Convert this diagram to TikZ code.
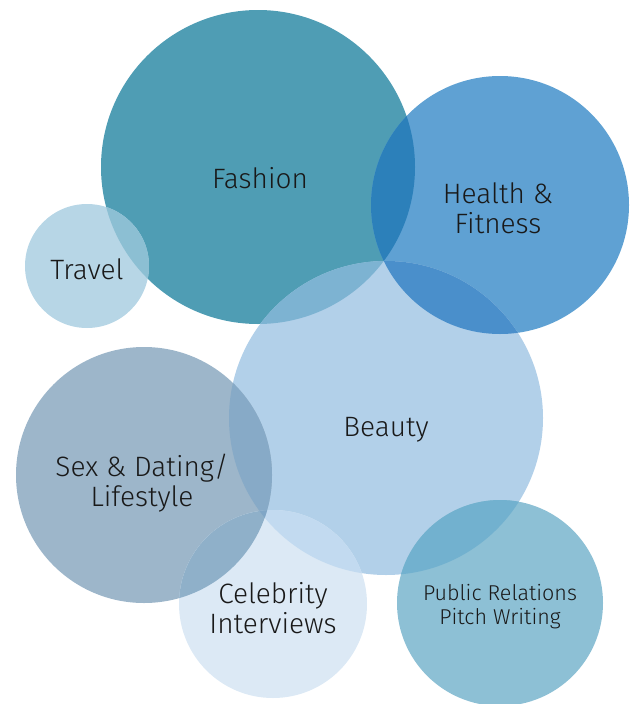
\documentclass[tikz,border=0pt]{standalone}
\usepackage{fontspec}
\setmainfont{Fira Sans}[UprightFont=* Light]
\begin{document}
\begin{tikzpicture}[x=1pt,y=-1pt,
  lbl/.style={text=black!90,align=center,font=\fontsize{28}{30}\selectfont,inner sep=0pt},
  lblsmall/.style={text=black!90,align=center,font=\fontsize{21.5}{24}\selectfont,inner sep=0pt}]
\useasboundingbox (0,0) rectangle (634,704);
\definecolor{cF}{HTML}{4F9DB4}
\definecolor{cH}{HTML}{5FA1D3}
\definecolor{cFH}{HTML}{2C80BA}
\definecolor{cT}{HTML}{B7D6E6}
\definecolor{cTF}{HTML}{8CBFD3}
\definecolor{cB}{HTML}{B2D0E9}
\definecolor{cBF}{HTML}{7DB3D2}
\definecolor{cBH}{HTML}{4A8FCB}
\definecolor{cS}{HTML}{9DB6CA}
\definecolor{cSB}{HTML}{87AAC7}
\definecolor{cC}{HTML}{DCE9F5}
\definecolor{cCS}{HTML}{8FB0C9}
\definecolor{cCB}{HTML}{C2DAF0}
\definecolor{cCSB}{HTML}{80A6C6}
\definecolor{cP}{HTML}{8DC0D5}
\definecolor{cPB}{HTML}{72B1CF}
\coordinate (F) at (258,167);
\coordinate (H) at (500,205);
\coordinate (T) at (87,266);
\coordinate (B) at (386,418);
\coordinate (S) at (144,475);
\coordinate (C) at (273,604);
\coordinate (P) at (500,603);
% base circles
\fill[cF] (F) circle (157);
\fill[cH] (H) circle (129);
\fill[cT] (T) circle (62);
\fill[cB] (B) circle (157);
\fill[cS] (S) circle (128);
\fill[cC] (C) circle (94);
\fill[cP] (P) circle (103);
% overlaps
\begin{scope}\clip (F) circle (157); \fill[cFH] (H) circle (129); \end{scope}
\begin{scope}\clip (F) circle (157); \fill[cTF] (T) circle (62); \end{scope}
\begin{scope}\clip (F) circle (157); \fill[cBF] (B) circle (157); \end{scope}
\begin{scope}\clip (H) circle (129); \fill[cBH] (B) circle (157); \end{scope}
\begin{scope}\clip (S) circle (128); \fill[cSB] (B) circle (157); \end{scope}
\begin{scope}\clip (C) circle (94); \fill[cCB] (B) circle (157); \end{scope}
\begin{scope}\clip (C) circle (94); \fill[cCS] (S) circle (128); \end{scope}
\begin{scope}\clip (C) circle (94); \clip (S) circle (128); \fill[cCSB] (B) circle (157); \end{scope}
\begin{scope}\clip (P) circle (103); \fill[cPB] (B) circle (157); \end{scope}
% labels
\node[lbl] (tF) at (260,178) {Fashion};
\node[lbl] (tH) at (498,208) {Health \&\\Fitness};
\node[lbl] (tT) at (87,269) {Travel};
\node[lbl] (tB) at (386,430) {Beauty};
\node[lbl] (tS) at (142,483) {Sex \& Dating/\\Lifestyle};
\node[lbl] (tC) at (273,608) {Celebrity\\Interviews};
\node[lblsmall] (tP) at (500,607) {Public Relations\\Pitch Writing};
\end{tikzpicture}
\end{document}
